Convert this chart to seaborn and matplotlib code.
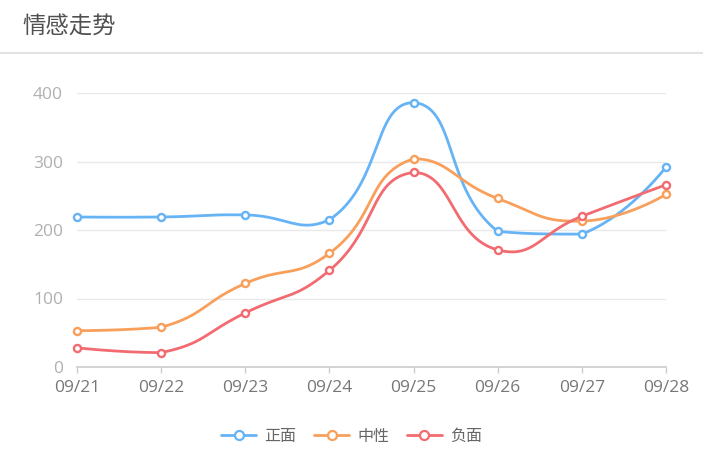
import numpy as np
import pandas as pd
import seaborn as sns
import matplotlib
matplotlib.use("Agg")
import matplotlib.pyplot as plt
from matplotlib.lines import Line2D

# ---- data ----
dates = ['09/21', '09/22', '09/23', '09/24', '09/25', '09/26', '09/27', '09/28']
positive = [219, 219, 222, 215, 386, 198, 194, 292]
neutral = [53, 58, 122, 166, 304, 246, 213, 252]
negative = [28, 21, 79, 141, 284, 171, 220, 266]
series_names = ['正面', '中性', '负面']
colors = ['#66b3f5', '#f89f5b', '#f26b70']
y_ticks = [0, 100, 200, 300, 400]
title = '情感走势'

sns.set_theme(style='white')
plt.rcParams['font.family'] = ['Noto Sans CJK SC', 'DejaVu Sans']

W, H = 703, 476
fig = plt.figure(figsize=(W / 100, H / 100), dpi=100)
ax_left, ax_right, ax_top, ax_bottom = 77, 666, 93, 367
ax = fig.add_axes([ax_left / W, 1 - ax_bottom / H, (ax_right - ax_left) / W, (ax_bottom - ax_top) / H])

# pixel scale used for the smoothing (echarts-like bezier with bbox constraint)
sx = (ax_right - ax_left) / (len(dates) - 1)
sy = (ax_bottom - ax_top) / 400.0


def smooth_curve(vals, smooth=0.5, n=40):
    pts = np.array([[i * sx, v * sy] for i, v in enumerate(vals)], dtype=float)
    m = len(pts)
    lo = pts.min(axis=0)
    hi = pts.max(axis=0)
    out_cp = [None] * m
    in_cp = [None] * m
    out_cp[0] = pts[0].copy()
    in_cp[m - 1] = pts[m - 1].copy()
    for i in range(1, m - 1):
        p, prev, nxt = pts[i], pts[i - 1], pts[i + 1]
        v = nxt - prev
        d0 = np.linalg.norm(p - prev)
        d1 = np.linalg.norm(nxt - p)
        r = d1 / (d0 + d1)
        in_cp[i] = p - v * smooth * (1 - r)
        out_cp[i] = p + v * smooth * r
    segs = []
    t = np.linspace(0, 1, n)[:, None]
    for i in range(m - 1):
        a = pts[i]
        b = np.clip(out_cp[i], lo, hi)
        c = np.clip(in_cp[i + 1], lo, hi)
        d = pts[i + 1]
        seg = (1 - t) ** 3 * a + 3 * (1 - t) ** 2 * t * b + 3 * (1 - t) * t ** 2 * c + t ** 3 * d
        if i > 0:
            seg = seg[1:]
        segs.append(seg)
    out = np.vstack(segs)
    return out[:, 0] / sx, out[:, 1] / sy


rows = []
for name, vals in zip(series_names, [positive, neutral, negative]):
    xs, ys = smooth_curve(vals)
    for k, (x, y) in enumerate(zip(xs, ys)):
        rows.append({'x': x, 'y': y, 'series': name, 'order': k})
curve_df = pd.DataFrame(rows)

pal = dict(zip(series_names, colors))
sns.lineplot(data=curve_df, x='x', y='y', hue='series', palette=pal, sort=False,
             estimator=None, units='series', linewidth=2.0, legend=False, ax=ax, zorder=2)

for name, vals, c in zip(series_names, [positive, neutral, negative], colors):
    pdf = pd.DataFrame({'x': np.arange(len(dates)), 'y': vals})
    sns.scatterplot(data=pdf, x='x', y='y', color='white', edgecolor=c, linewidth=1.7,
                    s=26, zorder=4, clip_on=False, legend=False, ax=ax)

ax.set_xlim(0, len(dates) - 1)
ax.set_ylim(0, 400)
ax.set_xticks(range(len(dates)))
ax.set_xticklabels(dates, fontfamily='Open Sans')
ax.set_yticks(y_ticks)
ax.set_yticklabels([str(v) for v in y_ticks], fontfamily='Open Sans')
ax.set_xlabel('')
ax.set_ylabel('')

for sp in ['top', 'right', 'left']:
    ax.spines[sp].set_visible(False)
ax.spines['bottom'].set_color('#cccccc')
ax.spines['bottom'].set_linewidth(1.2)

ax.yaxis.grid(True, color='#e9e9e9', linewidth=1.0)
ax.xaxis.grid(False)
ax.set_axisbelow(True)

ax.tick_params(axis='x', length=4, width=1, color='#cccccc', labelcolor='#777777', labelsize=12.5, pad=5, bottom=True)
ax.tick_params(axis='y', length=0, labelcolor='#b0b0b0', labelsize=12.5, pad=10)

# title and separator
fig.text(22 / W, 1 - 26 / H, title, ha='left', va='center', fontsize=16.8, color='#505050')
fig.add_artist(Line2D([0, 1], [1 - 53 / H, 1 - 53 / H], transform=fig.transFigure,
                      color='#e3e3e3', linewidth=1.5))

handles = [Line2D([0], [0], color=c, lw=2, marker='o', markersize=6.5,
                  markerfacecolor='white', markeredgewidth=1.6, markeredgecolor=c)
           for c in colors]
fig.legend(handles, series_names, loc='center', bbox_to_anchor=(0.5, 1 - 436 / H), ncol=3,
           frameon=False, fontsize=11.5, labelcolor='#666666', handlelength=2.2,
           handletextpad=0.5, columnspacing=1.1)

fig.savefig('out.png', dpi=100, facecolor='white')
